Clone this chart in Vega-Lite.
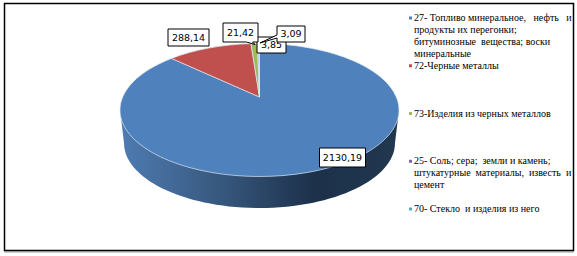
{
"$schema":"https://vega.github.io/schema/vega-lite/v6.json",
"width":577,"height":256,"padding":0,"autosize":"none",
"background":"white",
"config":{"view":{"stroke":null}},
"data":{"values":[
{"code":"27","value":2130.19,"label":"2130,19","legend":"27- Топливо минеральное,\u00a0\u00a0 нефть\u00a0\u00a0 и\nпродукты их перегонки;\nбитуминозные\u00a0 вещества; воски\nминеральные"},
{"code":"72","value":288.14,"label":"288,14","legend":"72-Черные металлы"},
{"code":"73","value":21.42,"label":"21,42","legend":"73-Изделия из черных металлов"},
{"code":"25","value":3.85,"label":"3,85","legend":"25- Соль; сера;\u00a0 земли и камень;\nштукатурные\u00a0 материалы,\u00a0 известь\u00a0 и\nцемент"},
{"code":"70","value":3.09,"label":"3,09","legend":"70- Стекло\u00a0 и изделия из него"}
]},
"layer":[
{"mark":{"type":"point","filled":false,"fill":"transparent","stroke":"#9a9a9a","strokeWidth":1,"opacity":1,"shape":"M4,252H574"},
 "transform":[{"filter":"datum.code=='27'"}],
 "encoding":{"x":{"value":0},"y":{"value":0},"size":{"value":4}}},
{"mark":{"type":"point","filled":false,"fill":"transparent","stroke":"#000000","strokeWidth":1.5,"opacity":1,"shape":"M4.5,3.5H573.5V250.5H4.5Z"},
 "transform":[{"filter":"datum.code=='27'"}],
 "encoding":{"x":{"value":0},"y":{"value":0},"size":{"value":4}}},
{"mark":{"type":"point","filled":true,"opacity":1,"strokeWidth":0,
 "fill":{"gradient":"linear","x1":0,"y1":0,"x2":1,"y2":0,"stops":[{"offset":0,"color":"#4f7cb3"},{"offset":0.35,"color":"#38597f"},{"offset":0.7,"color":"#1c304a"},{"offset":1,"color":"#22384f"}]},
 "shape":"M-139.5,0L-135.5,33A135.5,65 0 0 0 135.5,33L139.5,0Z"},
 "transform":[{"filter":"datum.code=='27'"}],
 "encoding":{"x":{"value":259.5},"y":{"value":110},"size":{"value":4}}},
{"mark":{"type":"point","filled":true,"opacity":1,"stroke":"#dfe8f2","strokeWidth":0.7},
 "transform":[
 {"joinaggregate":[{"op":"sum","field":"value","as":"total"}]},
 {"window":[{"op":"sum","field":"value","as":"cum"}]},
 {"calculate":"360*(datum.cum-datum.value)/datum.total","as":"th0"},
 {"calculate":"360*datum.cum/datum.total","as":"th1"},
 {"calculate":"datum.th0>180?360-(360-datum.th0)*0.84:datum.th0","as":"p0"},
 {"calculate":"datum.th1>180?360-(360-datum.th1)*0.84:datum.th1","as":"p1"},
 {"calculate":"'M0,-13L'+(round(13950*sin(datum.p0*PI/180))/100)+','+(round(-6650*cos(datum.p0*PI/180))/100)+'A139.5,66.5 0 '+(datum.p1-datum.p0>180?'1':'0')+' 1 '+(round(13950*sin(datum.p1*PI/180))/100)+','+(round(-6650*cos(datum.p1*PI/180))/100)+'Z'","as":"path"}
 ],
 "encoding":{"x":{"value":259.5},"y":{"value":110},"size":{"value":4},
 "shape":{"field":"path","type":"nominal","scale":null,"legend":null},
 "fill":{"field":"code","type":"nominal","scale":{"domain":["27","72","73","25","70"],"range":["#4f81bd","#c0504d","#9bbb59","#8064a2","#4bacc6"]},"legend":null}}},
{"transform":[{"filter":"datum.code=='25'"}],
 "encoding":{"x":{"value":271.5},"y":{"value":45}},
 "layer":[
 {"mark":{"type":"point","filled":true,"fill":"white","stroke":"black","strokeWidth":1,"opacity":1,"shape":"M-14.5,-8H14.5V8H-14.5Z"},"encoding":{"size":{"value":4}}},
 {"mark":{"type":"text","font":"DejaVu Sans","fontSize":9.5,"align":"center","baseline":"middle","color":"black"},"encoding":{"text":{"field":"label"}}}
 ]},
{"transform":[{"filter":"datum.code=='72'"}],
 "encoding":{"x":{"value":188.5},"y":{"value":37.5}},
 "layer":[
 {"mark":{"type":"point","filled":true,"fill":"white","stroke":"black","strokeWidth":1,"opacity":1,"shape":"M-20.5,-8.5H20.5V8.5L-3,8.5L-20.5,8.5Z"},"encoding":{"size":{"value":4}}},
 {"mark":{"type":"text","font":"DejaVu Sans","fontSize":9.5,"align":"center","baseline":"middle","color":"black"},"encoding":{"text":{"field":"label"}}}
 ]},
{"transform":[{"filter":"datum.code=='73'"}],
 "encoding":{"x":{"value":240.5},"y":{"value":32.5}},
 "layer":[
 {"mark":{"type":"point","filled":true,"fill":"white","stroke":"black","strokeWidth":1,"opacity":1,"shape":"M-17.5,-9.5H17.5V9.5H12L14.5,12L6,9.5H-17.5Z"},"encoding":{"size":{"value":4}}},
 {"mark":{"type":"text","font":"DejaVu Sans","fontSize":9.5,"align":"center","baseline":"middle","color":"black"},"encoding":{"text":{"field":"label"}}}
 ]},
{"transform":[{"filter":"datum.code=='70'"}],
 "encoding":{"x":{"value":291},"y":{"value":34}},
 "layer":[
 {"mark":{"type":"point","filled":true,"fill":"white","stroke":"black","strokeWidth":1,"opacity":1,"shape":"M-14,-8H14V8H-14V4L-31,9L-14,1Z"},"encoding":{"size":{"value":4}}},
 {"mark":{"type":"text","font":"DejaVu Sans","fontSize":9.5,"align":"center","baseline":"middle","color":"black"},"encoding":{"text":{"field":"label"}}}
 ]},
{"transform":[{"filter":"datum.code=='27'"}],
 "encoding":{"x":{"value":342.5},"y":{"value":157.5}},
 "layer":[
 {"mark":{"type":"point","filled":true,"fill":"white","stroke":"black","strokeWidth":1,"opacity":1,"shape":"M-23,-9.5H23V9.5H-23Z"},"encoding":{"size":{"value":4}}},
 {"mark":{"type":"text","font":"DejaVu Sans","fontSize":9.5,"align":"center","baseline":"middle","color":"black"},"encoding":{"text":{"field":"label"}}}
 ]},
{"mark":{"type":"point","filled":true,"opacity":1,"shape":"square","size":9},
 "encoding":{"x":{"value":410.5},
 "y":{"field":"code","type":"nominal","sort":null,"axis":null,"scale":{"type":"point","padding":0,"domain":["27","72","73","25","70"],"range":[18,209]}},
 "fill":{"field":"code","type":"nominal","legend":null}}},
{"mark":{"type":"text","font":"Liberation Serif","fontSize":10,"align":"left","baseline":"middle","lineBreak":"\n","lineHeight":12,"color":"black"},
 "encoding":{"x":{"value":414},
 "y":{"field":"code","type":"nominal","sort":null,"axis":null,"scale":{"type":"point","padding":0,"domain":["27","72","73","25","70"],"range":[18,209]}},
 "text":{"field":"legend"}}}
]
}
